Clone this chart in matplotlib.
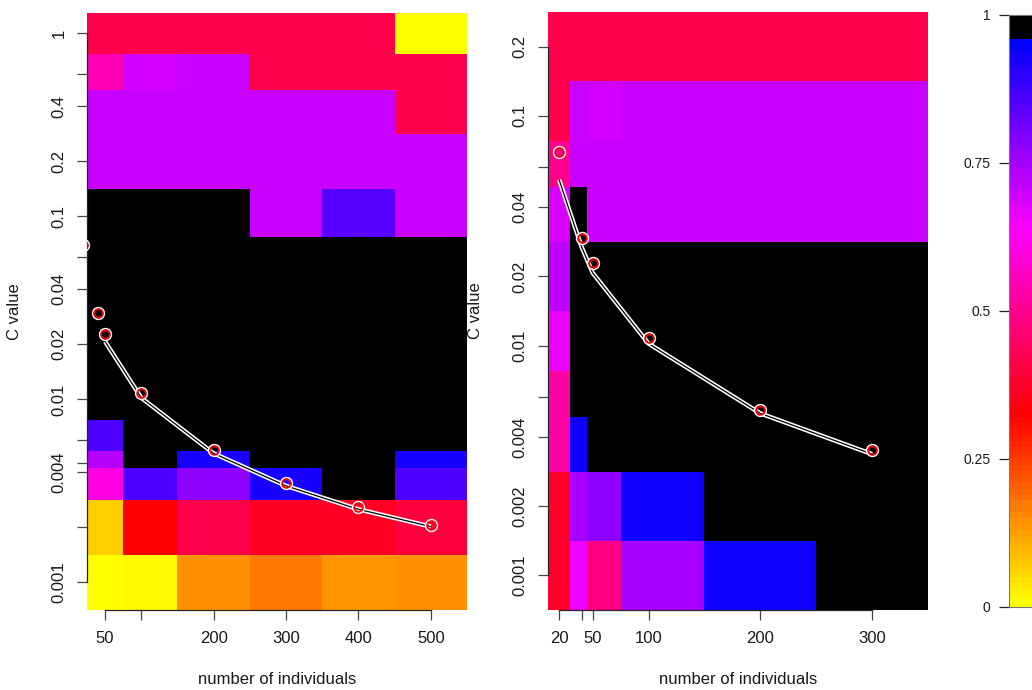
import numpy as np
import matplotlib
matplotlib.use("Agg")
import matplotlib.pyplot as plt
from matplotlib.colors import LinearSegmentedColormap, ListedColormap, Normalize
from matplotlib.ticker import FixedLocator, FixedFormatter, NullLocator
import matplotlib.cm as cm

plt.rcParams['font.family'] = ['Liberation Sans', 'DejaVu Sans']

# ---- left panel: sample sizes (columns) and C values (rows, top to bottom)
n_left = [50, 100, 200, 300, 400, 500]
c_left = [1, 0.6, 0.4, 0.2, 0.1, 0.06, 0.04, 0.02, 0.01, 0.006, 0.0045, 0.004, 0.002, 0.001]
score_left = [
    [0.416, 0.416, 0.416, 0.416, 0.416, 0.000],
    [0.546, 0.690, 0.700, 0.416, 0.416, 0.416],
    [0.700, 0.700, 0.700, 0.700, 0.700, 0.416],
    [0.700, 0.700, 0.700, 0.700, 0.700, 0.700],
    [1.000, 1.000, 1.000, 0.700, 0.847, 0.700],
    [1.000, 1.000, 1.000, 1.000, 1.000, 1.000],
    [1.000, 1.000, 1.000, 1.000, 1.000, 1.000],
    [1.000, 1.000, 1.000, 1.000, 1.000, 1.000],
    [1.000, 1.000, 1.000, 1.000, 1.000, 1.000],
    [0.850, 1.000, 1.000, 1.000, 1.000, 1.000],
    [0.728, 1.000, 0.922, 1.000, 1.000, 0.926],
    [0.600, 0.859, 0.772, 0.928, 1.000, 0.859],
    [0.069, 0.320, 0.416, 0.360, 0.360, 0.392],
    [0.000, 0.019, 0.146, 0.176, 0.134, 0.146],
]
xlab_left = ['50', '', '200', '300', '400', '500']
ylab_left = ['1', '', '0.4', '0.2', '0.1', '', '0.04', '0.02', '0.01', '', '', '0.004', '', '0.001']

# ---- right panel
n_right = [20, 40, 50, 100, 200, 300]
c_right = [0.2, 0.1, 0.06, 0.04, 0.02, 0.01, 0.006, 0.004, 0.002, 0.001]
score_right = [
    [0.416, 0.416, 0.416, 0.416, 0.416, 0.416],
    [0.416, 0.700, 0.690, 0.700, 0.700, 0.700],
    [0.496, 0.700, 0.700, 0.700, 0.700, 0.700],
    [0.684, 1.000, 0.700, 0.700, 0.700, 0.700],
    [0.710, 1.000, 1.000, 1.000, 1.000, 1.000],
    [0.665, 1.000, 1.000, 1.000, 1.000, 1.000],
    [0.520, 1.000, 1.000, 1.000, 1.000, 1.000],
    [0.520, 0.935, 1.000, 1.000, 1.000, 1.000],
    [0.370, 0.740, 0.778, 0.935, 1.000, 1.000],
    [0.370, 0.653, 0.483, 0.747, 0.935, 1.000],
]
xlab_right = ['20', '', '50', '100', '200', '300']
ylab_right = ['0.2', '0.1', '', '0.04', '0.02', '0.01', '', '0.004', '0.002', '0.001']

# ---- best C per sample size and the fitted trend
n_best = [20, 40, 50, 100, 200, 300, 400, 500]
c_best = [0.0699, 0.0295, 0.0228, 0.0108, 0.00527, 0.00350, 0.00259, 0.00207]
c_fit = [0.0526, 0.0269, 0.0207, 0.0102, 0.00507, 0.00337, 0.00251, 0.00202]

cbar_ticks = [0, 0.25, 0.5, 0.75, 1]
cbar_labels = ['0', '0.25', '0.5', '0.75', '1']

# palette: yellow -> red -> magenta -> blue, with black for the top band
ramp = LinearSegmentedColormap.from_list('ramp', ['#FFFF00', '#FF0000', '#FF00FF', '#0000FF'])
cmap = ListedColormap([ramp(i / 95) for i in range(96)] + ['#000000'] * 4)
norm = Normalize(0, 1)


def lin_edges(v):
    v = np.asarray(v, float)
    mid = (v[:-1] + v[1:]) / 2
    return np.concatenate([[v[0] - (v[1] - v[0]) / 2], mid, [v[-1] + (v[-1] - v[-2]) / 2]])


def log_edges(v):
    return 10 ** lin_edges(np.log10(v))


W, H = 1032, 690
fig = plt.figure(figsize=(W / 100, H / 100), dpi=100, facecolor='white')

FS = 12
TICK_LEN = 7.2
AX_COL = '#262626'


def panel(rect, n, c, score, xlabels, ylabels, fit_from):
    ax = fig.add_axes(rect)
    c_arr = np.asarray(c, float)
    order = np.argsort(c_arr)
    c_sorted = c_arr[order]
    z = np.asarray(score, float)[order]
    xe = lin_edges(n)
    ye = log_edges(c_sorted)
    ax.pcolormesh(xe, ye, z, cmap=cmap, norm=norm, shading='flat')
    ax.set_yscale('log')
    ax.set_xlim(xe[0], xe[-1])
    ax.set_ylim(ye[0], ye[-1])

    nb = np.asarray(n_best, float)
    fit = np.asarray(c_fit, float)
    keep = (nb >= fit_from) & (nb <= max(n))
    ax.plot(nb[keep], fit[keep], color='white', lw=3.2, solid_capstyle='butt', zorder=3)
    ax.plot(nb[keep], fit[keep], color='black', lw=0.9, solid_capstyle='butt', zorder=4)
    ax.plot(n_best, c_best, 'o', mfc='none', mec='white', ms=8.4, mew=1.2, zorder=5)
    ax.plot(n_best, c_best, 'o', mfc='none', mec='red', ms=6.2, mew=1.3, zorder=6)

    ax.xaxis.set_major_locator(FixedLocator(n))
    ax.xaxis.set_major_formatter(FixedFormatter(xlabels))
    ax.yaxis.set_major_locator(FixedLocator(c))
    ax.yaxis.set_major_formatter(FixedFormatter(ylabels))
    ax.yaxis.set_minor_locator(NullLocator())
    ax.xaxis.set_minor_locator(NullLocator())

    for s in ('top', 'right'):
        ax.spines[s].set_visible(False)
    ax.spines['left'].set_bounds(min(c), max(c))
    ax.spines['bottom'].set_bounds(min(n), max(n))
    for s in ('left', 'bottom'):
        ax.spines[s].set_color(AX_COL)
        ax.spines[s].set_linewidth(0.9)

    ax.tick_params(axis='both', direction='out', length=TICK_LEN, width=0.9,
                   color='#444444', labelsize=FS, labelcolor='#1a1a1a')
    ax.tick_params(axis='x', pad=8)
    ax.tick_params(axis='y', pad=7.5)
    for t in ax.get_yticklabels():
        t.set_rotation(90)
        t.set_va('center')

    ax.set_xlabel('number of individuals', fontsize=FS, color='#1a1a1a')
    ax.set_ylabel('C value', fontsize=FS, color='#1a1a1a')
    ax.xaxis.set_label_coords(0.5, -0.104)
    ax.yaxis.set_label_coords(-0.172, 0.5)
    return ax


panel([87 / W, 80 / H, 380 / W, 597 / H], n_left, c_left, score_left,
      xlab_left, ylab_left, fit_from=50)
panel([548 / W, 80 / H, 380 / W, 598 / H], n_right, c_right, score_right,
      xlab_right, ylab_right, fit_from=20)

cax = fig.add_axes([1009 / W, 83 / H, 60 / W, 592 / H])
cb = fig.colorbar(cm.ScalarMappable(norm=norm, cmap=cmap), cax=cax, ticks=cbar_ticks)
cb.ax.yaxis.set_ticks_position('left')
cb.ax.yaxis.set_label_position('left')
cb.ax.set_yticklabels(cbar_labels)
cb.ax.tick_params(direction='out', length=TICK_LEN, width=0.9, color='#222222',
                  labelsize=10, labelcolor='#1a1a1a', pad=6)
cb.outline.set_edgecolor('#777777')
cb.outline.set_linewidth(0.8)

fig.savefig('out.png', dpi=100, facecolor='white')
